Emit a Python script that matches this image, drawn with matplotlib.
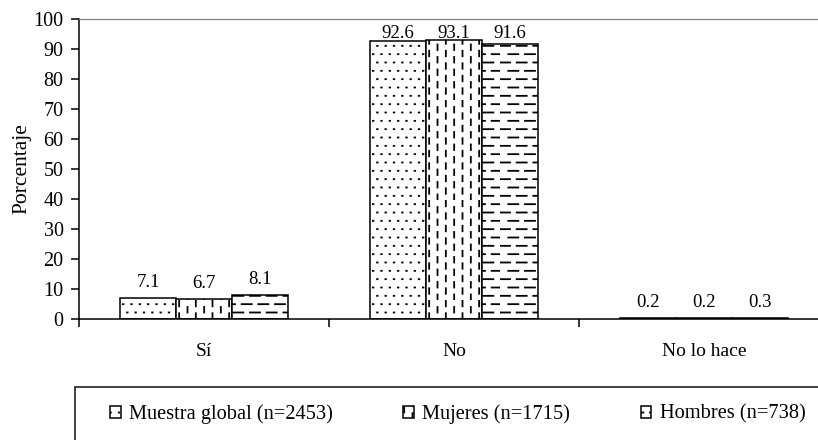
import numpy as np
import matplotlib
matplotlib.use("Agg")
import matplotlib.pyplot as plt
import matplotlib.hatch as mhatch
from matplotlib.path import Path
from matplotlib.patches import Rectangle

# ---------------- data ----------------
categories = ["Sí", "No", "No lo hace"]
series_names = ["Muestra global (n=2453)", "Mujeres (n=1715)", "Hombres (n=738)"]
global_vals = [7.1, 92.6, 0.2]
mujeres_vals = [6.7, 93.1, 0.2]
hombres_vals = [8.1, 91.6, 0.3]
yticks = [0, 10, 20, 30, 40, 50, 60, 70, 80, 90, 100]
ylabel = "Porcentaje"

# ---------------- custom hatches (dots, vertical dashes, horizontal dashes) -----
class _SegHatch(mhatch.HatchPatternBase):
    char = None

    def __init__(self, hatch, density):
        self.segs = self.make_segs() if (self.char in hatch) else []
        self.num_vertices = 2 * len(self.segs)

    def set_vertices_and_codes(self, vertices, codes):
        for i, (x0, y0, x1, y1) in enumerate(self.segs):
            vertices[2 * i] = (x0, y0)
            vertices[2 * i + 1] = (x1, y1)
            codes[2 * i] = Path.MOVETO
            codes[2 * i + 1] = Path.LINETO


class DotHatch(_SegHatch):
    char = "."

    def make_segs(self):
        segs = []
        n = 12
        for r in range(n):
            y = (r + 0.5) / n
            off = 0.5 / n if r % 2 else 0.0
            for c in range(n):
                x = (c + 0.25) / n + off
                segs.append((x, y, x + 0.005, y))
        return segs


class VDashHatch(_SegHatch):
    char = "|"

    def make_segs(self):
        segs = []
        ncol, nrow, L = 12, 8, 0.055
        for c in range(ncol):
            x = (c + 0.5) / ncol
            off = 0.5 / nrow if c % 2 else 0.0
            for r in range(nrow):
                y = r / nrow + off
                segs.append((x, y, x, y + L))
        return segs


class HDashHatch(_SegHatch):
    char = "-"

    def make_segs(self):
        segs = []
        nrow, ncol, L = 12, 6, 0.1
        for r in range(nrow):
            y = (r + 0.5) / nrow
            off = 0.5 / ncol if r % 2 else 0.0
            for c in range(ncol):
                x = c / ncol + off
                segs.append((x, y, x + L, y))
        return segs


mhatch._hatch_types = [DotHatch, VDashHatch, HDashHatch]

# ---------------- figure ----------------
plt.rcParams["font.family"] = ["Liberation Serif", "DejaVu Serif"]
plt.rcParams["hatch.linewidth"] = 1.3
plt.rcParams["hatch.color"] = "black"

W, H = 818, 440
fig = plt.figure(figsize=(W / 100, H / 100), dpi=100)
ax = fig.add_axes([79 / W, (H - 319) / H, 750 / W, 300 / H])

x = np.arange(len(categories))
bw = 0.224
all_vals = [global_vals, mujeres_vals, hombres_vals]
hatches = [".", "|", "-"]
handles = []
for i, (vals, hp) in enumerate(zip(all_vals, hatches)):
    bars = ax.bar(x + (i - 1) * bw, vals, width=bw, color="white",
                  edgecolor="black", linewidth=1.1, hatch=hp, zorder=3)
    handles.append(bars)
    for xi, v in zip(x + (i - 1) * bw, vals):
        ax.text(xi, min(v + 3.7, 93.8), f"{v:.1f}", ha="center",
                va="baseline", fontsize=13.5, zorder=4)

ax.set_xlim(-0.5, len(categories) - 0.5)
ax.set_ylim(0, 100)
ax.set_yticks(yticks)
ax.tick_params(axis="y", direction="out", length=6, width=1.1, labelsize=14.5, pad=5)

# category boundaries as major ticks, labels on minor ticks
ax.set_xticks(np.arange(-0.5, len(categories) + 0.5, 1.0))
ax.set_xticklabels([])
ax.set_xticks(x, minor=True)
ax.set_xticklabels(categories, minor=True)
ax.tick_params(axis="x", which="major", direction="out", length=6, width=1.1)
ax.tick_params(axis="x", which="minor", length=0, labelsize=14, pad=17)

ax.spines["left"].set_linewidth(1.1)
ax.spines["bottom"].set_linewidth(1.1)
ax.spines["top"].set_color("#808080")
ax.spines["top"].set_linewidth(0.9)
ax.spines["right"].set_visible(False)
for s in ax.spines.values():
    s.set_zorder(5)

ax.set_ylabel(ylabel, fontsize=15.5)
ax.yaxis.set_label_coords(-0.063, 0.5)

# legend box (extends past the canvas edge like the reference)
fig.patches.append(Rectangle((75 / W, -0.1), 1.2, 0.1 + (H - 387) / H,
                             transform=fig.transFigure, fill=False,
                             edgecolor="#404040", linewidth=1.4))
fig.legend(handles, series_names, ncol=3, loc="center left",
           bbox_to_anchor=(110 / W, 1 - 414 / H), frameon=False,
           fontsize=14.7, handlelength=0.53, handleheight=0.53,
           handletextpad=0.4, columnspacing=3.45, borderpad=0, borderaxespad=0)

fig.savefig("out.png", dpi=100)
